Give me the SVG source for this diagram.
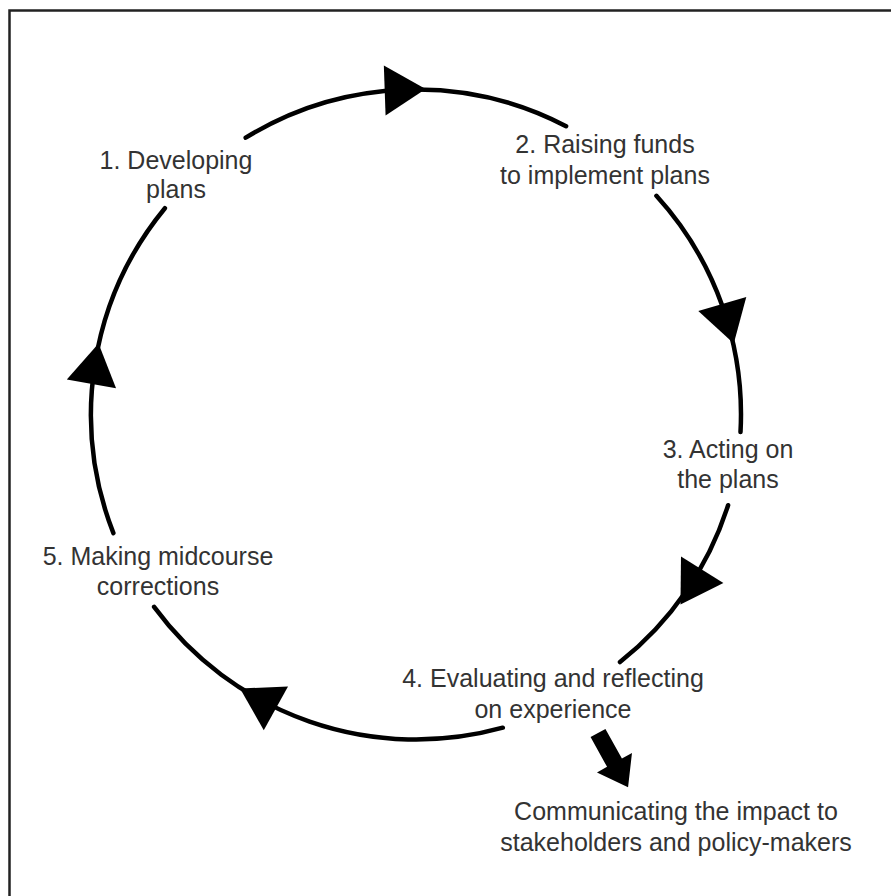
<svg xmlns="http://www.w3.org/2000/svg" width="891" height="896" viewBox="0 0 891 896">
<style>
.frame{stroke:#222;stroke-width:2.5;fill:none}
.arc{fill:none;stroke:#000;stroke-width:4.5;stroke-linecap:round}
.head{fill:#000}
text{font-family:"Liberation Sans",Arial,sans-serif;font-size:25px;fill:#333;text-anchor:middle}
</style>
<defs>
<polygon id="tri" points="-20,-25 21,0 -20,25"/>
</defs>
<rect width="891" height="896" fill="#fff"/>
<path class="frame" d="M9.5,896 V10.5 H891"/>
<g id="connectors">
<path class="arc" d="M245.7,137.7 A325,325 0 0 1 566.1,126.2"/>
<path class="arc" d="M656.4,195.8 A325,325 0 0 1 740.5,432.1"/>
<path class="arc" d="M728.1,505.2 A325,325 0 0 1 620,662"/>
<path class="arc" d="M502.8,727.7 A325,325 0 0 1 154.1,606.9"/>
<path class="arc" d="M113.4,533.1 A325,325 0 0 1 164.9,208.2"/>
<use href="#tri" class="head" transform="translate(404.7,89.7) rotate(358)"/>
<use href="#tri" class="head" transform="translate(727.9,323.3) rotate(73.7)"/>
<use href="#tri" class="head" transform="translate(691.6,586.7) rotate(122)"/>
<use href="#tri" class="head" transform="translate(258.4,698.7) rotate(209)"/>
<use href="#tri" class="head" transform="translate(94.9,364.2) rotate(280)"/>
<polygon class="head" points="0,-8.5 34,-8.5 34,-20 62,0 34,20 34,8.5 0,8.5" transform="translate(598,733) rotate(61)"/>
</g>
<g id="n1"><text x="176" y="169">1. Developing</text><text x="176" y="198">plans</text></g>
<g id="n2"><text x="605" y="153">2. Raising funds</text><text x="605" y="184">to implement plans</text></g>
<g id="n3"><text x="728" y="458">3. Acting on</text><text x="728" y="488">the plans</text></g>
<g id="n4"><text x="553" y="687">4. Evaluating and reflecting</text><text x="553" y="718">on experience</text></g>
<g id="n5"><text x="158" y="565">5. Making midcourse</text><text x="158" y="595">corrections</text></g>
<g id="n6"><text x="676" y="820">Communicating the impact to</text><text x="676" y="851">stakeholders and policy-makers</text></g>
</svg>
